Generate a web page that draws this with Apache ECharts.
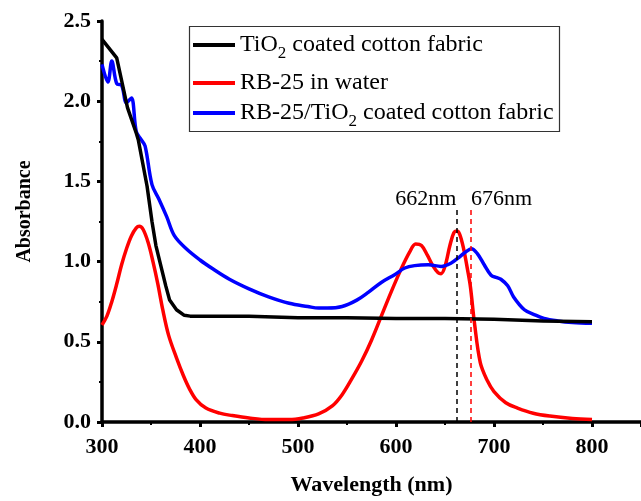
<!DOCTYPE html>
<html>
<head>
<meta charset="utf-8">
<script src="https://cdn.jsdelivr.net/npm/echarts@6/dist/echarts.min.js"></script>
<style>html,body{margin:0;padding:0;background:#fff;}#c{width:641px;height:501px;}</style>
</head>
<body>
<div id="c"></div>
<script>
// ---- data ----
const seriesNames = ['TiO2 coated cotton fabric', 'RB-25 in water', 'RB-25/TiO2 coated cotton fabric'];

const tio2Wl  = [300, 315, 326, 335, 337, 346, 351, 355, 361, 365, 369, 376, 384, 390, 400, 450, 500, 550, 600, 650, 700, 750, 800];
const tio2Abs = [2.385, 2.27, 1.96, 1.80, 1.76, 1.47, 1.25, 1.10, 0.95, 0.85, 0.76, 0.70, 0.665, 0.66, 0.66, 0.66, 0.65, 0.65, 0.645, 0.645, 0.64, 0.63, 0.625];

const rbWl  = [300, 305, 310, 315, 320, 325, 330, 335, 338, 342, 347, 352, 357, 362, 368, 376, 383, 389, 396, 406, 420, 433, 450, 470, 491, 505, 521, 535, 545, 555, 565, 575, 585, 595, 605, 614, 620, 626, 632, 638, 643, 646, 650, 655, 659, 662, 665, 669, 673, 676, 680, 686, 693, 700, 712, 724, 740, 757, 780, 800];
const rbAbs = [0.605, 0.66, 0.75, 0.86, 0.98, 1.08, 1.16, 1.21, 1.22, 1.20, 1.12, 1.00, 0.86, 0.70, 0.54, 0.40, 0.29, 0.21, 0.14, 0.087, 0.055, 0.04, 0.025, 0.015, 0.015, 0.025, 0.05, 0.10, 0.17, 0.27, 0.38, 0.51, 0.66, 0.81, 0.95, 1.06, 1.11, 1.10, 1.04, 0.97, 0.93, 0.925, 0.97, 1.10, 1.18, 1.19, 1.17, 1.08, 0.95, 0.84, 0.62, 0.37, 0.26, 0.19, 0.12, 0.087, 0.055, 0.037, 0.022, 0.015];

const mixWl  = [300, 306, 310, 315, 320, 325, 330, 335, 340, 344, 351, 358, 366, 374, 386, 400, 413, 430, 450, 470, 491, 510, 521, 530, 545, 560, 572, 585, 599, 609, 619, 633, 646, 656, 665, 671, 677, 683, 690, 697, 703, 707, 714, 720, 731, 741, 751, 765, 780, 800];
const mixAbs = [2.23, 2.12, 2.25, 2.11, 2.10, 1.99, 2.02, 1.81, 1.76, 1.72, 1.48, 1.39, 1.28, 1.16, 1.08, 1.01, 0.955, 0.89, 0.83, 0.78, 0.74, 0.72, 0.71, 0.71, 0.72, 0.76, 0.81, 0.87, 0.92, 0.96, 0.975, 0.98, 0.97, 0.99, 1.03, 1.06, 1.08, 1.05, 0.98, 0.915, 0.90, 0.89, 0.85, 0.78, 0.70, 0.67, 0.646, 0.63, 0.62, 0.615];

const peakWl = [662, 676];           // annotated peaks
const peakLineTop = 1.34;            // dashed guide height (absorbance)
const xTicks = [300, 400, 500, 600, 700, 800];
const yTicks = [0.0, 0.5, 1.0, 1.5, 2.0, 2.5];

// ---- chart ----
const FONT = "'Times New Roman', 'Liberation Serif', serif";
const zip = (a, b) => a.map((v, i) => [v, b[i]]);
const colors = ['#000000', '#ff0000', '#0000ff'];

const chart = echarts.init(document.getElementById('c'), null, {renderer: 'canvas'});

const legendBase = (name, top) => ({
  data: [name],
  orient: 'vertical',
  left: 193,
  top: top,
  padding: 0,
  icon: 'rect',
  itemWidth: 42,
  itemHeight: 4,
  selectedMode: false,
  formatter: n => n.replace('TiO2', 'TiO{s|2}'),
  textStyle: {
    fontFamily: FONT, fontSize: 24, color: '#000',
    rich: { s: { fontFamily: FONT, fontSize: 17, color: '#000', padding: [17, 0, 0, 0] } }
  }
});

const option = {
  animation: false,
  backgroundColor: '#fff',
  grid: { left: 102, top: 21, right: -3, bottom: 77, containLabel: false },
  graphic: [{
    type: 'rect', z: 1,
    shape: { x: 189.5, y: 26.5, width: 370, height: 105 },
    style: { fill: '#fff', stroke: '#333', lineWidth: 1.2 }
  }],
  legend: [
    legendBase(seriesNames[0], 33),
    legendBase(seriesNames[1], 71),
    legendBase(seriesNames[2], 101)
  ],
  xAxis: {
    type: 'value', min: 300, max: 850, interval: 100,
    name: 'Wavelength (nm)', nameLocation: 'middle', nameGap: 52,
    nameTextStyle: { fontFamily: FONT, fontSize: 22, fontWeight: 'bold', color: '#000' },
    axisLine: { onZero: false, lineStyle: { color: '#000', width: 3.5 } },
    axisTick: { show: true, inside: false, length: 5, lineStyle: { width: 3, color: '#000' } },
    minorTick: { show: true, splitNumber: 2, length: 3, lineStyle: { width: 2, color: '#000' } },
    splitLine: { show: false },
    axisLabel: {
      margin: 14, fontFamily: FONT, fontSize: 22, fontWeight: 'bold', color: '#000',
      showMaxLabel: false,
      formatter: v => xTicks.includes(v) ? String(v) : ''
    }
  },
  yAxis: {
    type: 'value', min: 0, max: 2.5, interval: 0.5,
    name: 'Absorbance', nameLocation: 'middle', nameGap: 67,
    nameTextStyle: { fontFamily: FONT, fontSize: 20, fontWeight: 'bold', color: '#000', padding: [0, 0, 0, 20] },
    axisLine: { show: true, onZero: false, lineStyle: { color: '#000', width: 3.5 } },
    axisTick: { show: true, inside: false, length: 5, lineStyle: { width: 3, color: '#000' } },
    minorTick: { show: true, splitNumber: 2, length: 3, lineStyle: { width: 2, color: '#000' } },
    splitLine: { show: false },
    axisLabel: {
      margin: 11, fontFamily: FONT, fontSize: 22, fontWeight: 'bold', color: '#000',
      formatter: v => yTicks.some(t => Math.abs(t - v) < 1e-9) ? v.toFixed(1) : ''
    }
  },
  series: [
    {
      name: seriesNames[0], type: 'line', data: zip(tio2Wl, tio2Abs),
      color: colors[0], symbol: 'none', smooth: false, z: 3,
      lineStyle: { width: 3.5, color: colors[0] },
      markLine: {
        symbol: 'none', silent: true, label: { show: false },
        lineStyle: { color: '#000', type: [5, 4], width: 1.5 },
        data: [[{ coord: [peakWl[0], 0] }, { coord: [peakWl[0], peakLineTop] }]]
      },
      markPoint: {
        symbol: 'circle', symbolSize: 0, silent: true,
        label: { show: true, position: 'inside', offset: [-31, 0], fontFamily: FONT, fontSize: 22, color: '#000',
                 formatter: () => peakWl[0] + 'nm' },
        data: [{ coord: [peakWl[0], 1.39] }]
      }
    },
    {
      name: seriesNames[1], type: 'line', data: zip(rbWl, rbAbs),
      color: colors[1], symbol: 'none', smooth: 0.35, z: 2,
      lineStyle: { width: 3.5, color: colors[1] },
      markLine: {
        symbol: 'none', silent: true, label: { show: false },
        lineStyle: { color: '#ff0000', type: [5, 4], width: 1.5 },
        data: [[{ coord: [peakWl[1], 0] }, { coord: [peakWl[1], peakLineTop] }]]
      },
      markPoint: {
        symbol: 'circle', symbolSize: 0, silent: true,
        label: { show: true, position: 'inside', offset: [31, 0], fontFamily: FONT, fontSize: 22, color: '#000',
                 formatter: () => peakWl[1] + 'nm' },
        data: [{ coord: [peakWl[1], 1.39] }]
      }
    },
    {
      name: seriesNames[2], type: 'line', data: zip(mixWl, mixAbs),
      color: colors[2], symbol: 'none', smooth: 0.35, z: 2,
      lineStyle: { width: 3.5, color: colors[2] }
    }
  ]
};
chart.setOption(option);
</script>
</body>
</html>
